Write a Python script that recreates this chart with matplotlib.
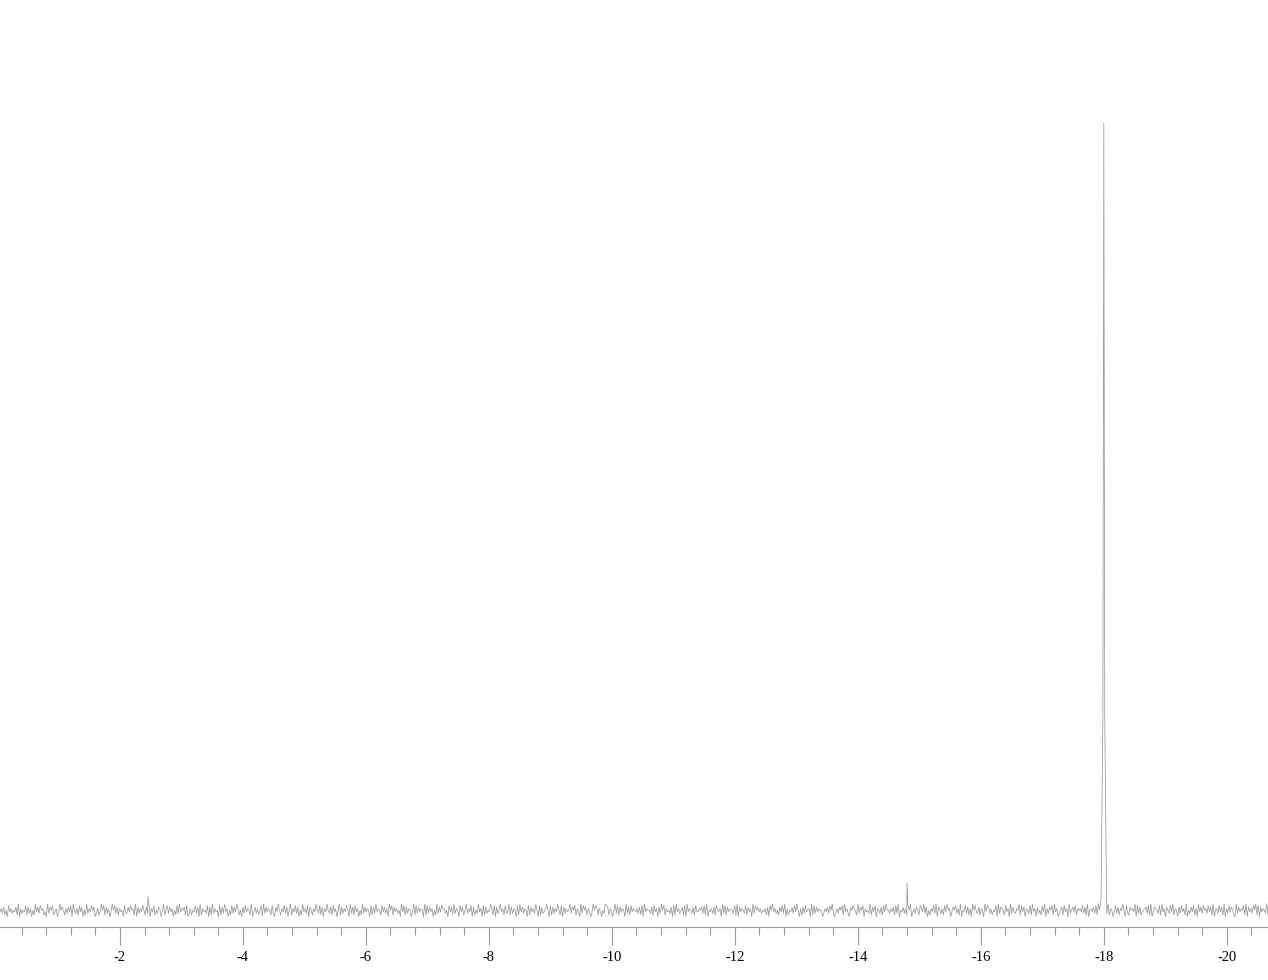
import numpy as np
import matplotlib.pyplot as plt

plt.rcParams['font.family'] = ['Liberation Serif', 'DejaVu Serif']
plt.rcParams['axes.unicode_minus'] = False

# baseline noise levels (0-9), hand estimated along the trace, left to right
noise_digits = (
    "4637251846354729163548273615294738562419375824613957"
    "5263748195362847152936485713624958273614958372645183"
    "3748562917364852739164825376149258374615283946572813"
    "6254837192645381729364518273946152837496251738465291"
    "4736258193746528317495264837159264837152946381752649"
    "5382716495372846159273648519372846152937465182739465"
    "2847361958274635194827365149283746519283746152937486"
    "6351847293651847259364817253946182735496281735946283"
    "4927365182947365182746395182734695182736495281736459"
    "3758264193857264139587264153987264159382746519372846"
    "5463728194655372846173958264537182946357281946537284"
    "4657382915463728546193827465538291746538274619385746"
    "3546271859463527483916254738495162738456192837465513"
    "6473859214637582946317586429375816453927481653728495"
    "5364728391547362859146375286493715264839175362849561"
    "4758362915483726195843726519487362548193765284619374"
    "3659284716538294617352849163758294613572846193574826"
    "5648372915647382956174839265148372659418327564918372"
    "4567382914765382946175384926517384629153748261947385"
    "6384729156384729163847521937465829174638592817465392"
)

# peaks (ppm, relative intensity)
big_peak_ppm = [-17.955, -17.985, -18.0, -18.015, -18.045]
big_peak_int = [1.5, 25.0, 100.0, 25.0, 1.5]
spike_ppm = [-2.455, -14.80]
spike_int = [1.8, 3.6]

tick_major = [-2, -4, -6, -8, -10, -12, -14, -16, -18, -20]

levels = np.array([int(c) for c in noise_digits], dtype=float)
x = np.linspace(-0.05, -20.67, len(levels))
y = (levels - 4.5) * 0.2

keep = (x > -17.95) | (x < -18.05)
x = np.concatenate([x[keep], big_peak_ppm, spike_ppm])
y = np.concatenate([y[keep], big_peak_int, spike_int])
order = np.argsort(-x)
x, y = x[order], y[order]

fig = plt.figure(figsize=(12.68, 9.8), dpi=100)
ax = fig.add_axes([0, 1 - 927 / 980, 1, 927 / 980])
ax.plot(x, y, color='#999999', lw=0.55)

ax.set_xlim(-0.05, -20.67)
ax.set_ylim(-2.03, 115.6)
for s in ['left', 'right', 'top']:
    ax.spines[s].set_visible(False)
ax.spines['bottom'].set_color('#999999')
ax.spines['bottom'].set_linewidth(0.8)
ax.set_yticks([])
ax.set_xticks(tick_major)
ax.set_xticklabels([str(t) for t in tick_major])
ax.set_xticks(np.arange(-0.4, -20.7, -0.4), minor=True)
ax.tick_params(axis='x', which='major', length=13, width=0.8, color='#999999',
               labelsize=10.5, pad=4)
ax.tick_params(axis='x', which='minor', length=6, width=0.8, color='#999999')

fig.savefig('out.png', dpi=100)
